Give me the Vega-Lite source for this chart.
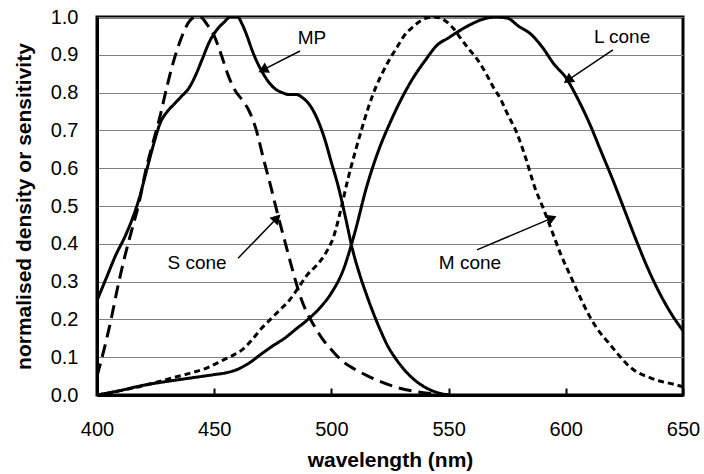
{
  "$schema": "https://vega.github.io/schema/vega-lite/v6.json",
  "width": 586,
  "height": 378,
  "autosize": "none",
  "padding": {"left": 97, "top": 17, "right": 21, "bottom": 79},
  "background": "white",
  "config": {
    "font": "Liberation Sans",
    "view": {"stroke": "black", "strokeWidth": 3},
    "axis": {"labelColor": "black", "titleColor": "black", "labelFont": "Liberation Sans", "titleFont": "Liberation Sans"}
  },
  "datasets": {
    "curves": [
      {"curve": "S cone", "wl": 400, "v": 0.05}, {"curve": "S cone", "wl": 403, "v": 0.12}, {"curve": "S cone", "wl": 406, "v": 0.2}, {"curve": "S cone", "wl": 409, "v": 0.29}, {"curve": "S cone", "wl": 412, "v": 0.37}, {"curve": "S cone", "wl": 415, "v": 0.44}, {"curve": "S cone", "wl": 418, "v": 0.51}, {"curve": "S cone", "wl": 421, "v": 0.6}, {"curve": "S cone", "wl": 424, "v": 0.67}, {"curve": "S cone", "wl": 427, "v": 0.74}, {"curve": "S cone", "wl": 430, "v": 0.82}, {"curve": "S cone", "wl": 433, "v": 0.89}, {"curve": "S cone", "wl": 436, "v": 0.945}, {"curve": "S cone", "wl": 439, "v": 0.985}, {"curve": "S cone", "wl": 442, "v": 1.0}, {"curve": "S cone", "wl": 444, "v": 1.0}, {"curve": "S cone", "wl": 447, "v": 0.98}, {"curve": "S cone", "wl": 450, "v": 0.95}, {"curve": "S cone", "wl": 453, "v": 0.9}, {"curve": "S cone", "wl": 456, "v": 0.845}, {"curve": "S cone", "wl": 459, "v": 0.805}, {"curve": "S cone", "wl": 462, "v": 0.78}, {"curve": "S cone", "wl": 465, "v": 0.75}, {"curve": "S cone", "wl": 468, "v": 0.7}, {"curve": "S cone", "wl": 471, "v": 0.625}, {"curve": "S cone", "wl": 474, "v": 0.555}, {"curve": "S cone", "wl": 477, "v": 0.48}, {"curve": "S cone", "wl": 480, "v": 0.41}, {"curve": "S cone", "wl": 483, "v": 0.34}, {"curve": "S cone", "wl": 486, "v": 0.275}, {"curve": "S cone", "wl": 489, "v": 0.225}, {"curve": "S cone", "wl": 492, "v": 0.19}, {"curve": "S cone", "wl": 496, "v": 0.15}, {"curve": "S cone", "wl": 500, "v": 0.12}, {"curve": "S cone", "wl": 505, "v": 0.088}, {"curve": "S cone", "wl": 510, "v": 0.068}, {"curve": "S cone", "wl": 515, "v": 0.052}, {"curve": "S cone", "wl": 520, "v": 0.038}, {"curve": "S cone", "wl": 528, "v": 0.02}, {"curve": "S cone", "wl": 535, "v": 0.01}, {"curve": "S cone", "wl": 542, "v": 0.004}, {"curve": "S cone", "wl": 550, "v": 0.0},
      {"curve": "MP", "wl": 400, "v": 0.25}, {"curve": "MP", "wl": 404, "v": 0.31}, {"curve": "MP", "wl": 408, "v": 0.37}, {"curve": "MP", "wl": 412, "v": 0.42}, {"curve": "MP", "wl": 415, "v": 0.465}, {"curve": "MP", "wl": 418, "v": 0.52}, {"curve": "MP", "wl": 421, "v": 0.59}, {"curve": "MP", "wl": 424, "v": 0.66}, {"curve": "MP", "wl": 427, "v": 0.72}, {"curve": "MP", "wl": 430, "v": 0.75}, {"curve": "MP", "wl": 433, "v": 0.77}, {"curve": "MP", "wl": 436, "v": 0.79}, {"curve": "MP", "wl": 439, "v": 0.81}, {"curve": "MP", "wl": 442, "v": 0.845}, {"curve": "MP", "wl": 445, "v": 0.89}, {"curve": "MP", "wl": 448, "v": 0.935}, {"curve": "MP", "wl": 451, "v": 0.965}, {"curve": "MP", "wl": 454, "v": 0.985}, {"curve": "MP", "wl": 457, "v": 1.0}, {"curve": "MP", "wl": 460, "v": 1.0}, {"curve": "MP", "wl": 462, "v": 0.98}, {"curve": "MP", "wl": 464, "v": 0.95}, {"curve": "MP", "wl": 466, "v": 0.915}, {"curve": "MP", "wl": 468, "v": 0.885}, {"curve": "MP", "wl": 470, "v": 0.86}, {"curve": "MP", "wl": 473, "v": 0.83}, {"curve": "MP", "wl": 476, "v": 0.81}, {"curve": "MP", "wl": 479, "v": 0.8}, {"curve": "MP", "wl": 482, "v": 0.795}, {"curve": "MP", "wl": 485, "v": 0.795}, {"curve": "MP", "wl": 488, "v": 0.785}, {"curve": "MP", "wl": 491, "v": 0.765}, {"curve": "MP", "wl": 494, "v": 0.73}, {"curve": "MP", "wl": 497, "v": 0.68}, {"curve": "MP", "wl": 500, "v": 0.615}, {"curve": "MP", "wl": 503, "v": 0.55}, {"curve": "MP", "wl": 506, "v": 0.47}, {"curve": "MP", "wl": 509, "v": 0.385}, {"curve": "MP", "wl": 512, "v": 0.32}, {"curve": "MP", "wl": 515, "v": 0.265}, {"curve": "MP", "wl": 518, "v": 0.215}, {"curve": "MP", "wl": 521, "v": 0.17}, {"curve": "MP", "wl": 524, "v": 0.13}, {"curve": "MP", "wl": 527, "v": 0.1}, {"curve": "MP", "wl": 530, "v": 0.075}, {"curve": "MP", "wl": 534, "v": 0.048}, {"curve": "MP", "wl": 538, "v": 0.028}, {"curve": "MP", "wl": 542, "v": 0.014}, {"curve": "MP", "wl": 546, "v": 0.005}, {"curve": "MP", "wl": 550, "v": 0.0},
      {"curve": "L cone", "wl": 400, "v": 0.0}, {"curve": "L cone", "wl": 410, "v": 0.012}, {"curve": "L cone", "wl": 420, "v": 0.026}, {"curve": "L cone", "wl": 430, "v": 0.036}, {"curve": "L cone", "wl": 440, "v": 0.045}, {"curve": "L cone", "wl": 450, "v": 0.054}, {"curve": "L cone", "wl": 456, "v": 0.06}, {"curve": "L cone", "wl": 460, "v": 0.068}, {"curve": "L cone", "wl": 465, "v": 0.085}, {"curve": "L cone", "wl": 470, "v": 0.108}, {"curve": "L cone", "wl": 475, "v": 0.13}, {"curve": "L cone", "wl": 480, "v": 0.15}, {"curve": "L cone", "wl": 485, "v": 0.175}, {"curve": "L cone", "wl": 490, "v": 0.2}, {"curve": "L cone", "wl": 495, "v": 0.23}, {"curve": "L cone", "wl": 500, "v": 0.27}, {"curve": "L cone", "wl": 505, "v": 0.33}, {"curve": "L cone", "wl": 510, "v": 0.43}, {"curve": "L cone", "wl": 515, "v": 0.55}, {"curve": "L cone", "wl": 520, "v": 0.645}, {"curve": "L cone", "wl": 525, "v": 0.72}, {"curve": "L cone", "wl": 530, "v": 0.785}, {"curve": "L cone", "wl": 535, "v": 0.84}, {"curve": "L cone", "wl": 540, "v": 0.885}, {"curve": "L cone", "wl": 545, "v": 0.925}, {"curve": "L cone", "wl": 550, "v": 0.945}, {"curve": "L cone", "wl": 555, "v": 0.965}, {"curve": "L cone", "wl": 560, "v": 0.982}, {"curve": "L cone", "wl": 565, "v": 0.995}, {"curve": "L cone", "wl": 570, "v": 1.0}, {"curve": "L cone", "wl": 575, "v": 0.997}, {"curve": "L cone", "wl": 580, "v": 0.975}, {"curve": "L cone", "wl": 585, "v": 0.955}, {"curve": "L cone", "wl": 590, "v": 0.92}, {"curve": "L cone", "wl": 595, "v": 0.875}, {"curve": "L cone", "wl": 600, "v": 0.84}, {"curve": "L cone", "wl": 605, "v": 0.785}, {"curve": "L cone", "wl": 610, "v": 0.72}, {"curve": "L cone", "wl": 615, "v": 0.645}, {"curve": "L cone", "wl": 620, "v": 0.57}, {"curve": "L cone", "wl": 625, "v": 0.49}, {"curve": "L cone", "wl": 630, "v": 0.41}, {"curve": "L cone", "wl": 635, "v": 0.335}, {"curve": "L cone", "wl": 640, "v": 0.27}, {"curve": "L cone", "wl": 645, "v": 0.215}, {"curve": "L cone", "wl": 650, "v": 0.17},
      {"curve": "M cone", "wl": 400, "v": 0.0}, {"curve": "M cone", "wl": 405, "v": 0.005}, {"curve": "M cone", "wl": 411, "v": 0.013}, {"curve": "M cone", "wl": 418, "v": 0.022}, {"curve": "M cone", "wl": 425, "v": 0.033}, {"curve": "M cone", "wl": 432, "v": 0.045}, {"curve": "M cone", "wl": 440, "v": 0.058}, {"curve": "M cone", "wl": 447, "v": 0.072}, {"curve": "M cone", "wl": 454, "v": 0.093}, {"curve": "M cone", "wl": 458, "v": 0.105}, {"curve": "M cone", "wl": 462, "v": 0.12}, {"curve": "M cone", "wl": 466, "v": 0.145}, {"curve": "M cone", "wl": 470, "v": 0.175}, {"curve": "M cone", "wl": 474, "v": 0.2}, {"curve": "M cone", "wl": 478, "v": 0.225}, {"curve": "M cone", "wl": 482, "v": 0.25}, {"curve": "M cone", "wl": 486, "v": 0.285}, {"curve": "M cone", "wl": 490, "v": 0.32}, {"curve": "M cone", "wl": 494, "v": 0.345}, {"curve": "M cone", "wl": 498, "v": 0.38}, {"curve": "M cone", "wl": 501, "v": 0.42}, {"curve": "M cone", "wl": 504, "v": 0.49}, {"curve": "M cone", "wl": 507, "v": 0.57}, {"curve": "M cone", "wl": 510, "v": 0.64}, {"curve": "M cone", "wl": 513, "v": 0.705}, {"curve": "M cone", "wl": 516, "v": 0.765}, {"curve": "M cone", "wl": 519, "v": 0.815}, {"curve": "M cone", "wl": 522, "v": 0.855}, {"curve": "M cone", "wl": 525, "v": 0.89}, {"curve": "M cone", "wl": 528, "v": 0.92}, {"curve": "M cone", "wl": 531, "v": 0.95}, {"curve": "M cone", "wl": 535, "v": 0.975}, {"curve": "M cone", "wl": 539, "v": 0.993}, {"curve": "M cone", "wl": 543, "v": 1.0}, {"curve": "M cone", "wl": 546, "v": 0.998}, {"curve": "M cone", "wl": 549, "v": 0.988}, {"curve": "M cone", "wl": 552, "v": 0.97}, {"curve": "M cone", "wl": 555, "v": 0.945}, {"curve": "M cone", "wl": 558, "v": 0.92}, {"curve": "M cone", "wl": 562, "v": 0.89}, {"curve": "M cone", "wl": 566, "v": 0.85}, {"curve": "M cone", "wl": 569, "v": 0.815}, {"curve": "M cone", "wl": 572, "v": 0.785}, {"curve": "M cone", "wl": 575, "v": 0.745}, {"curve": "M cone", "wl": 579, "v": 0.695}, {"curve": "M cone", "wl": 583, "v": 0.625}, {"curve": "M cone", "wl": 587, "v": 0.545}, {"curve": "M cone", "wl": 590, "v": 0.5}, {"curve": "M cone", "wl": 594, "v": 0.435}, {"curve": "M cone", "wl": 598, "v": 0.37}, {"curve": "M cone", "wl": 602, "v": 0.315}, {"curve": "M cone", "wl": 606, "v": 0.26}, {"curve": "M cone", "wl": 610, "v": 0.21}, {"curve": "M cone", "wl": 614, "v": 0.17}, {"curve": "M cone", "wl": 618, "v": 0.14}, {"curve": "M cone", "wl": 622, "v": 0.11}, {"curve": "M cone", "wl": 626, "v": 0.082}, {"curve": "M cone", "wl": 630, "v": 0.062}, {"curve": "M cone", "wl": 635, "v": 0.048}, {"curve": "M cone", "wl": 640, "v": 0.037}, {"curve": "M cone", "wl": 645, "v": 0.03}, {"curve": "M cone", "wl": 650, "v": 0.022}
    ],
    "notes": [
      {"label": "MP", "tx": 491.7, "ty": 0.944, "wl": 486.6, "v": 0.91, "wl2": 470.8, "v2": 0.86},
      {"label": "L cone", "tx": 624, "ty": 0.947, "wl": 620.1, "v": 0.913, "wl2": 600.9, "v2": 0.833},
      {"label": "S cone", "tx": 442.7, "ty": 0.349, "wl": 460.2, "v": 0.362, "wl2": 476.8, "v2": 0.468},
      {"label": "M cone", "tx": 559.1, "ty": 0.349, "wl": 562.1, "v": 0.384, "wl2": 594.1, "v2": 0.468}
    ]
  },
  "layer": [
    {
      "data": {"name": "curves"},
      "mark": {"type": "line", "interpolate": "monotone", "strokeWidth": 3, "color": "black", "clip": true},
      "encoding": {
        "x": {
          "field": "wl", "type": "quantitative",
          "scale": {"domain": [400, 650], "nice": false, "zero": false},
          "axis": {
            "values": [400, 450, 500, 550, 600, 650],
            "tickCount": 20,
            "grid": false,
            "tickSize": -7, "tickWidth": 2, "tickColor": "black",
            "labelPadding": 31, "labelFontSize": 20, "labelFlush": false, "labelOverlap": false,
            "domainColor": "black", "domainWidth": 3,
            "title": "wavelength (nm)", "titleFontSize": 21, "titleFontWeight": "bold", "titlePadding": 10
          }
        },
        "y": {
          "field": "v", "type": "quantitative",
          "scale": {"domain": [0, 1], "nice": false},
          "axis": {
            "values": [0, 0.1, 0.2, 0.3, 0.4, 0.5, 0.6, 0.7, 0.8, 0.9, 1.0],
            "tickCount": 20,
            "format": ".1f",
            "ticks": false,
            "grid": true, "gridColor": "#808080", "gridWidth": 1,
            "labelPadding": 19, "labelFontSize": 20, "labelFlush": false, "labelOverlap": false,
            "domainColor": "black", "domainWidth": 3,
            "title": "normalised density or sensitivity", "titleFontSize": 21, "titleFontWeight": "bold", "titlePadding": 16
          }
        },
        "detail": {"field": "curve", "type": "nominal"},
        "strokeDash": {
          "field": "curve", "type": "nominal",
          "scale": {"domain": ["MP", "S cone", "M cone", "L cone"], "range": [[1, 0], [13, 7], [6, 4], [1, 0]]},
          "legend": null
        }
      }
    },
    {
      "data": {"name": "notes"},
      "mark": {"type": "rule", "color": "black", "strokeWidth": 1.5},
      "encoding": {
        "x": {"field": "wl", "type": "quantitative"},
        "y": {"field": "v", "type": "quantitative"},
        "x2": {"field": "wl2"},
        "y2": {"field": "v2"}
      }
    },
    {
      "data": {"name": "notes"},
      "mark": {"type": "text", "fontSize": 19, "color": "black", "font": "Liberation Sans"},
      "encoding": {
        "x": {"field": "tx", "type": "quantitative"},
        "y": {"field": "ty", "type": "quantitative"},
        "text": {"field": "label"}
      }
    },
    {
      "data": {"name": "notes"},
      "transform": [{"filter": "datum.label === 'MP'"}],
      "mark": {"type": "point", "shape": "triangle-up", "filled": true, "color": "black", "opacity": 1, "size": 130, "angle": 243},
      "encoding": {"x": {"field": "wl2", "type": "quantitative"}, "y": {"field": "v2", "type": "quantitative"}}
    },
    {
      "data": {"name": "notes"},
      "transform": [{"filter": "datum.label === 'L cone'"}],
      "mark": {"type": "point", "shape": "triangle-up", "filled": true, "color": "black", "opacity": 1, "size": 130, "angle": 236},
      "encoding": {"x": {"field": "wl2", "type": "quantitative"}, "y": {"field": "v2", "type": "quantitative"}}
    },
    {
      "data": {"name": "notes"},
      "transform": [{"filter": "datum.label === 'S cone'"}],
      "mark": {"type": "point", "shape": "triangle-up", "filled": true, "color": "black", "opacity": 1, "size": 130, "angle": 44},
      "encoding": {"x": {"field": "wl2", "type": "quantitative"}, "y": {"field": "v2", "type": "quantitative"}}
    },
    {
      "data": {"name": "notes"},
      "transform": [{"filter": "datum.label === 'M cone'"}],
      "mark": {"type": "point", "shape": "triangle-up", "filled": true, "color": "black", "opacity": 1, "size": 130, "angle": 67},
      "encoding": {"x": {"field": "wl2", "type": "quantitative"}, "y": {"field": "v2", "type": "quantitative"}}
    }
  ]
}
